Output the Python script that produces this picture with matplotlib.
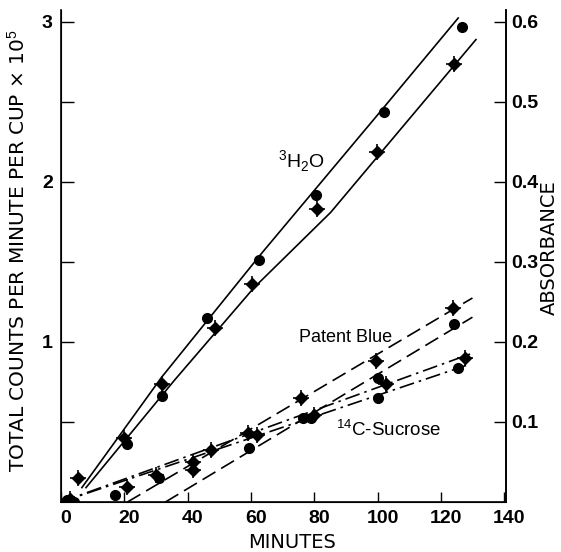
import matplotlib
matplotlib.use("Agg")
import matplotlib.pyplot as plt
import matplotlib.transforms as mtransforms

plt.rcParams["font.family"] = ["Liberation Sans", "DejaVu Sans"]
plt.rcParams["mathtext.fontset"] = "custom"
plt.rcParams["mathtext.rm"] = "Liberation Sans"

# 3H2O (solid lines)
h2o_circle_x = [2, 21, 32, 46, 62.6, 80.5, 101.9, 126.7]
h2o_circle_y = [0.01, 0.36, 0.66, 1.15, 1.51, 1.92, 2.44, 2.97]
h2o_diamond_x = [5.3, 20, 31.8, 48.7, 60.4, 80.8, 99.8, 124.3]
h2o_diamond_y = [0.15, 0.40, 0.74, 1.09, 1.36, 1.83, 2.19, 2.74]
h2o_fit1_x = [6.6, 31.8, 63.2, 100.9, 125.5]
h2o_fit1_y = [0.09, 0.78, 1.55, 2.44, 3.025]
h2o_fit2_x = [7.9, 35.8, 61.0, 85.2, 131.1]
h2o_fit2_y = [0.09, 0.76, 1.34, 1.81, 2.89]

# Patent Blue (dashed lines)
blue_circle_x = [4, 31, 59.3, 79, 100, 124.2]
blue_circle_y = [0.0, 0.15, 0.34, 0.525, 0.775, 1.11]
blue_diamond_x = [3, 20.8, 41.8, 59, 75.8, 99.4, 124]
blue_diamond_y = [0.02, 0.095, 0.25, 0.43, 0.65, 0.883, 1.21]
blue_fit1_x = [21, 130]
blue_fit1_y = [0.0, 1.275]
blue_fit2_x = [33, 130]
blue_fit2_y = [0.0, 1.155]

# 14C-Sucrose (dash-dot lines)
suc_circle_x = [17, 76.4, 100, 125.5]
suc_circle_y = [0.045, 0.525, 0.65, 0.84]
suc_diamond_x = [30, 41.8, 47.5, 62, 80, 102.8, 127.7]
suc_diamond_y = [0.17, 0.20, 0.325, 0.42, 0.545, 0.74, 0.90]
suc_fit1_x = [0, 130]
suc_fit1_y = [0.0, 0.93]
suc_fit2_x = [0, 129]
suc_fit2_y = [0.0, 0.86]

x_ticks = [20, 40, 60, 80, 100, 120, 140]
x_labels = ["0", "20", "40", "60", "80", "100", "120", "140"]
y_left_ticks = [1, 2, 3]
y_right_ticks = [0.1, 0.2, 0.3, 0.4, 0.5, 0.6]

fig = plt.figure(figsize=(5.61, 5.52), dpi=100)
ax = fig.add_axes([61 / 561, 1 - 502 / 552, 445 / 561, 492 / 552])

lw = 1.2
dash = (0, (9, 4))
dashdot = (0, (9, 3, 1.5, 3))
ax.plot(h2o_fit1_x, h2o_fit1_y, color="black", lw=lw)
ax.plot(h2o_fit2_x, h2o_fit2_y, color="black", lw=lw)
ax.plot(blue_fit1_x, blue_fit1_y, color="black", lw=lw, linestyle=dash)
ax.plot(blue_fit2_x, blue_fit2_y, color="black", lw=lw, linestyle=dash)
ax.plot(suc_fit1_x, suc_fit1_y, color="black", lw=lw, linestyle=dashdot)
ax.plot(suc_fit2_x, suc_fit2_y, color="black", lw=lw, linestyle=dashdot)

for xs, ys in [(h2o_circle_x, h2o_circle_y), (blue_circle_x, blue_circle_y),
               (suc_circle_x, suc_circle_y)]:
    ax.plot(xs, ys, "o", color="black", markersize=7, linestyle="none")
for xs, ys in [(h2o_diamond_x, h2o_diamond_y), (blue_diamond_x, blue_diamond_y),
               (suc_diamond_x, suc_diamond_y)]:
    ax.plot(xs, ys, "D", color="black", markersize=6.5, linestyle="none")
    ax.plot(xs, ys, "+", color="black", markersize=11, mew=1.2, linestyle="none")

ax.text(76, 2.13, "$^3$H$_2$O", fontsize=14, ha="center", va="center")
ax.text(90, 1.03, "Patent Blue", fontsize=13, ha="center", va="center")
ax.text(103.5, 0.45, "$^{14}$C-Sucrose", fontsize=13.5, ha="center", va="center")

ax.set_xlim(0.6, 140.6)
ax.set_ylim(0, 3.075)
ax.set_xticks([0] + x_ticks)
ax.set_xticklabels(x_labels, fontsize=14, fontweight="bold")
ax.set_yticks(y_left_ticks)
ax.set_yticks([0.5, 1.5, 2.5], minor=True)
ax.set_yticklabels([str(v) for v in y_left_ticks], fontsize=14, fontweight="bold")
ax.tick_params(axis="both", which="both", direction="in", length=9, width=1)
ax.tick_params(axis="x", length=7, pad=6)
ax.tick_params(axis="y", pad=6)
offset = mtransforms.ScaledTranslation(5 / 100, 0, fig.dpi_scale_trans)
for lab in ax.get_xticklabels():
    lab.set_transform(lab.get_transform() + offset)

ax.spines["top"].set_visible(False)
for s in ["left", "bottom", "right"]:
    ax.spines[s].set_linewidth(1.2)

ax.set_xlabel("MINUTES", fontsize=14, family="DejaVu Sans")
ax.xaxis.set_label_coords(0.52, -0.064)
ax.set_ylabel("TOTAL COUNTS PER MINUTE PER CUP \u00d7 10$^5$", fontsize=14.5,
              family="DejaVu Sans")
ax.yaxis.set_label_coords(-0.072, 0.51)

ax2 = ax.twinx()
ax2.set_ylim(0, 3.075 / 5)
ax2.set_yticks(y_right_ticks)
ax2.set_yticklabels([f"{v:.1f}" for v in y_right_ticks], fontsize=14, fontweight="bold")
ax2.tick_params(axis="y", direction="in", length=9, width=1, pad=4)
ax2.spines["top"].set_visible(False)
ax2.spines["right"].set_linewidth(1.2)
ax2.set_ylabel("ABSORBANCE", fontsize=14, family="DejaVu Sans")
ax2.yaxis.set_label_coords(1.076, 0.518)

fig.savefig("out.png", dpi=100)
